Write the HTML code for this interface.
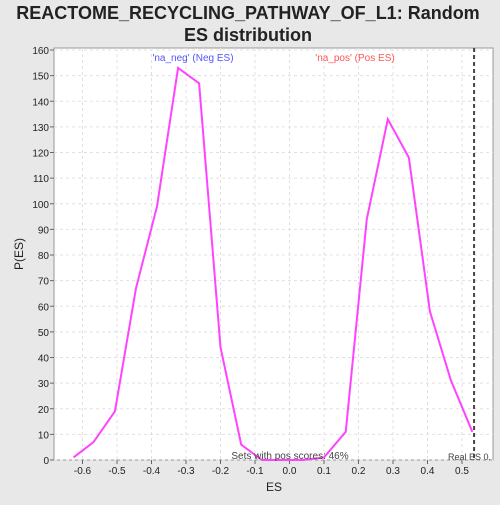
<!DOCTYPE html>
<html><head><meta charset="utf-8"><style>
body{margin:0;background:#e8e8e8;width:500px;height:500px;overflow:hidden;font-family:"Liberation Sans",sans-serif}
</style></head><body>
<svg id="c" width="500" height="500" xmlns="http://www.w3.org/2000/svg">
<rect x="0" y="0" width="500" height="500" fill="#e8e8e8"/>
<text x="248" y="19" font-size="18" font-weight="bold" text-anchor="middle" fill="#222">REACTOME_RECYCLING_PATHWAY_OF_L1: Random</text>
<text x="248" y="41" font-size="18" font-weight="bold" text-anchor="middle" fill="#222">ES distribution</text>
<rect x="54" y="48" width="439" height="412" fill="#fff" stroke="#999"/>
<g id="grid"></g><g id="axes"></g><g id="series"></g>
<text x="193" y="61" font-size="10" fill="#5555ff" text-anchor="middle">'na_neg' (Neg ES)</text>
<text x="355" y="61" font-size="10" fill="#ff5555" text-anchor="middle">'na_pos' (Pos ES)</text>
<text x="290" y="459" font-size="10" fill="#444" text-anchor="middle">Sets with pos scores: 46%</text>
<text x="448" y="460" font-size="9" fill="#444">Real ES 0.</text>
<text x="274" y="491" font-size="12" fill="#222" text-anchor="middle">ES</text>
<text x="23" y="254" font-size="12" fill="#222" text-anchor="middle" transform="rotate(-90 23 254)">P(ES)</text>
</svg>
<script>
const esValues=[-0.626,-0.568,-0.506,-0.445,-0.384,-0.323,-0.262,-0.2,-0.14,-0.08,-0.02,0.04,0.1,0.163,0.224,0.285,0.346,0.407,0.468,0.53];
const pValues=[1,7,19,67,99,153,147,44,6,0,0,0,1,11,94,133,118,58,31,11];
const xTicks=[-0.6,-0.5,-0.4,-0.3,-0.2,-0.1,0.0,0.1,0.2,0.3,0.4,0.5];
const yTicks=[0,10,20,30,40,50,60,70,80,90,100,110,120,130,140,150,160];
const realES=0.535;
const NS="http://www.w3.org/2000/svg";
const sx=v=>289.5+v*345, sy=v=>460-v*410/160;
function mk(t,a,p){const e=document.createElementNS(NS,t);for(const k in a)e.setAttribute(k,a[k]);p.appendChild(e);return e;}
const g=document.getElementById('grid'),ax=document.getElementById('axes'),s=document.getElementById('series');
yTicks.forEach(v=>{
 const l=mk('line',{x1:54,x2:493,y1:sy(v),y2:sy(v),stroke:'#e0e0e0','stroke-dasharray':'3,3'},g);
 
 
 const t=mk('text',{x:49,y:sy(v)+4,'font-size':10,'text-anchor':'end',fill:'#222'},ax);t.textContent=v;
 
 
 mk('line',{x1:50,x2:54,y1:sy(v),y2:sy(v),stroke:'#666'},ax);
});
xTicks.forEach(v=>{
 const l=mk('line',{x1:sx(v),x2:sx(v),y1:48,y2:460,stroke:'#e0e0e0','stroke-dasharray':'3,3'},g);
 
 
 const t=mk('text',{x:sx(v),y:474,'font-size':10,'text-anchor':'middle',fill:'#222'},ax);t.textContent=v.toFixed(1);
 
 
 mk('line',{x1:sx(v),x2:sx(v),y1:460,y2:464,stroke:'#666'},ax);
});
const pl=mk('polyline',{points:esValues.map((x,i)=>sx(x)+','+sy(pValues[i])).join(' '),fill:'none',stroke:'#ff44ff','stroke-width':2},s);


const rl=mk('line',{x1:sx(realES),x2:sx(realES),y1:48,y2:460,stroke:'#444','stroke-width':2,'stroke-dasharray':'4,3'},s);


</script>
</body></html>
